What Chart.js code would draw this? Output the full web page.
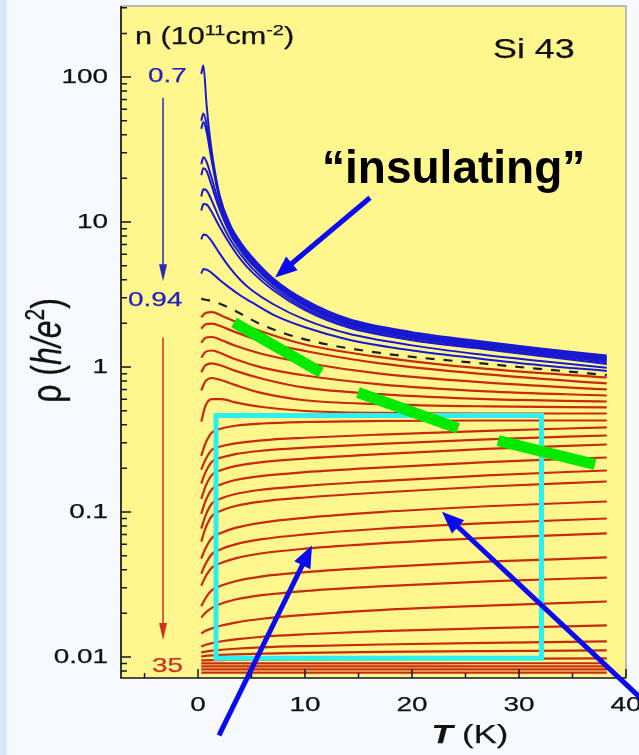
<!DOCTYPE html>
<html><head><meta charset="utf-8">
<script src="https://cdn.jsdelivr.net/npm/chart.js@4/dist/chart.umd.min.js"></script>
<style>html,body{margin:0;padding:0;background:#fff;}canvas{display:block;}</style>
</head><body>
<canvas id="c" width="639" height="755"></canvas>
<script>
// ---------- data (T in K, rho in h/e^2) ----------
const blueTemps = [0.3, 0.5, 0.8, 1.2, 2, 3, 4, 5, 7, 10, 14, 20, 26, 32, 38.2];
const blue1 = [105, 120, 64, 34, 15.5, 9.6, 7.2, 5.8, 4.1, 2.9, 2.15, 1.74, 1.52, 1.34, 1.2];
const blue2 = [50, 56, 47, 30, 15, 9.3, 7.0, 5.6, 4.0, 2.83, 2.1, 1.70, 1.49, 1.31, 1.17];
const blue3 = [44, 49, 42, 28.5, 14.5, 9.1, 6.85, 5.5, 3.92, 2.77, 2.06, 1.67, 1.46, 1.29, 1.15];
const blue4 = [25, 28, 26, 21, 13.2, 8.7, 6.6, 5.3, 3.82, 2.7, 2.02, 1.64, 1.43, 1.27, 1.13];
const blue5 = [21, 23.5, 22.5, 18.5, 12.3, 8.3, 6.35, 5.15, 3.72, 2.64, 1.98, 1.61, 1.41, 1.25, 1.11];
const blue6 = [15, 16.8, 16.5, 14.5, 10.6, 7.6, 5.95, 4.85, 3.56, 2.55, 1.93, 1.57, 1.38, 1.22, 1.08];
const blue7 = [12, 13.3, 13.2, 12, 9.3, 7.0, 5.5, 4.55, 3.4, 2.47, 1.88, 1.53, 1.35, 1.19, 1.05];
const blue8 = [7.6, 8.2, 8.1, 7.5, 6.1, 4.8, 3.95, 3.4, 2.72, 2.12, 1.7, 1.41, 1.23, 1.1, 0.99];
const blue9 = [4.4, 4.75, 4.7, 4.5, 4.0, 3.5, 3.1, 2.8, 2.3, 1.88, 1.55, 1.3, 1.15, 1.03, 0.94];
const blueCurves = [blue1, blue2, blue3, blue4, blue5, blue6, blue7, blue8, blue9];

const redTemps = [0.3, 0.7, 1.3, 2.2, 3.5, 6, 10, 17, 27, 38.2];
const separatrix = [2.95, 2.91, 2.85, 2.7, 2.43, 1.95, 1.55, 1.25, 1.05, 0.88];
const red1 = [2.2, 2.36, 2.39, 2.26, 2.05, 1.75, 1.43, 1.17, 0.97, 0.847];
const red2 = [1.84, 1.97, 1.99, 1.9, 1.74, 1.5, 1.29, 1.06, 0.89, 0.77];
const red3 = [1.47, 1.59, 1.61, 1.53, 1.4, 1.23, 1.07, 0.9, 0.78, 0.70];
const red4 = [1.16, 1.27, 1.3, 1.24, 1.13, 0.99, 0.874, 0.76, 0.68, 0.636];
const red5 = [0.92, 1.03, 1.06, 1.02, 0.94, 0.83, 0.72, 0.65, 0.6, 0.578];
const red6 = [0.69, 0.8, 0.84, 0.81, 0.75, 0.66, 0.59, 0.555, 0.535, 0.526];
const red7 = [0.42, 0.54, 0.6, 0.6, 0.57, 0.53, 0.497, 0.482, 0.478, 0.478];
const red8 = [0.244, 0.298, 0.3533, 0.3766, 0.3934, 0.4077, 0.4175, 0.4242, 0.4276, 0.4276];
const red9 = [0.196, 0.230, 0.2685, 0.284, 0.297, 0.312, 0.325, 0.342, 0.363, 0.383];
const red10 = [0.157, 0.188, 0.2222, 0.2376, 0.2508, 0.2647, 0.2775, 0.2949, 0.3172, 0.3370];
const red11 = [0.123, 0.150, 0.1803, 0.1949, 0.2073, 0.2209, 0.2335, 0.2504, 0.2724, 0.2921];
const red12 = [0.097, 0.119, 0.1436, 0.1555, 0.1662, 0.1774, 0.1882, 0.2024, 0.2209, 0.2376];
const red13 = [0.0767, 0.0945, 0.1143, 0.1243, 0.1331, 0.1425, 0.1514, 0.1633, 0.1791, 0.1933];
const red14 = [0.0624, 0.0773, 0.0938, 0.1024, 0.1100, 0.1181, 0.1259, 0.1363, 0.1499, 0.1623];
const red15 = [0.0477, 0.0562, 0.0662, 0.0720, 0.0777, 0.0845, 0.0912, 0.0998, 0.1095, 0.1181];
const red16 = [0.0375, 0.0437, 0.0512, 0.0556, 0.0598, 0.0649, 0.0700, 0.0766, 0.0837, 0.0902];
const red17 = [0.0310, 0.0358, 0.0413, 0.0446, 0.0479, 0.0519, 0.0558, 0.0607, 0.0662, 0.0711];
const red18 = [0.0224, 0.0254, 0.0289, 0.0311, 0.0333, 0.0360, 0.0385, 0.0417, 0.0454, 0.0486];
const red19 = [0.0187, 0.0202, 0.0218, 0.0234, 0.0249, 0.0267, 0.0285, 0.0307, 0.0332, 0.0353];
const red20 = [0.01452, 0.01514, 0.01575, 0.01649, 0.01727, 0.01834, 0.01951, 0.02106, 0.02259, 0.02414];
const red21 = [0.01181, 0.01214, 0.01247, 0.01283, 0.01322, 0.01378, 0.01434, 0.01506, 0.01579, 0.01649];
const red22 = [0.01074, 0.01089, 0.01105, 0.01121, 0.01139, 0.01165, 0.01189, 0.01219, 0.01251, 0.01279];
const red23 = [0.01008, 0.01016, 0.01024, 0.01033, 0.01043, 0.01055, 0.01068, 0.01083, 0.01097, 0.01109];
const red24 = [0.00946, 0.00948, 0.0095, 0.00952, 0.00955, 0.00958, 0.00962, 0.00967, 0.00972, 0.00977];
const red25 = [0.00902, 0.00902, 0.00902, 0.00903, 0.00903, 0.00903, 0.00904, 0.00904, 0.00905, 0.00905];
const red26 = [0.0086, 0.0086, 0.0086, 0.0086, 0.0086, 0.0086, 0.0086, 0.0086, 0.0086, 0.0086];
const red27 = [0.0082, 0.0082, 0.0082, 0.0082, 0.0082, 0.0082, 0.0082, 0.0082, 0.0082, 0.0082];
const red28 = [0.00781, 0.00781, 0.00781, 0.00781, 0.00781, 0.00781, 0.00781, 0.00781, 0.00781, 0.00781];
const redCurves = [red1, red2, red3, red4, red5, red6, red7, red8, red9, red10, red11, red12, red13, red14,
  red15, red16, red17, red18, red19, red20, red21, red22, red23, red24, red25, red26, red27, red28];

// annotations (data coordinates)
const greenT = [3.36, 11.5, 13, 14.95, 24.3, 26, 28.04, 37.1];
const greenRho = [2.03, 0.916, null, 0.667, 0.377, null, 0.311, 0.213];
const boxT = [17, 32.1, 32.1, 1.68, 1.68, 17];
const boxRho = [0.463, 0.463, 0.0098, 0.0098, 0.463, 0.463];
const arrowTailT = [16.07, 1.96, 42.2];
const arrowTailRho = [14.7, 0.00288, 0.00456];
const arrowHeadT = [7.2, 10.65, 22.8];
const arrowHeadRho = [4.14, 0.0587, 0.1002];

// axes
const xMin = -7.2, xMax = 40, yMin = 0.00716, yMax = 309;
const xTicks = [0, 10, 20, 30, 40];
const xTickLabels = ['0', '10', '20', '30', '40'];
const xMinorTicks = [-5, 5, 15, 25, 35];
const yTicks = [0.01, 0.1, 1, 10, 100];
const yTickLabels = ['0.01', '0.1', '1', '10', '100'];

// ---------- drawing ----------
const SX = 1.33;
const FF = '"Liberation Sans", Arial, sans-serif';
const pts = (xs, ys) => xs.map((x, i) => ({x: x, y: ys[i]}));

const datasets = [];
datasets.push({data: pts(greenT, greenRho), borderColor: '#00ea00', borderWidth: 11, borderCapStyle: 'butt', spanGaps: false, tension: 0});
datasets.push({data: pts(boxT, boxRho), borderColor: '#2cefef', borderWidth: 5, borderJoinStyle: 'miter', tension: 0});
datasets.push({data: pts(redTemps, separatrix), borderColor: '#1e1e1e', borderWidth: 2.2, borderDash: [9, 9], cubicInterpolationMode: 'monotone'});
blueCurves.forEach(c => datasets.push({data: pts(blueTemps, c), borderColor: '#1818d2', borderWidth: 2, cubicInterpolationMode: 'monotone'}));
redCurves.forEach(c => datasets.push({data: pts(redTemps, c), borderColor: '#c82a0c', borderWidth: 2.2, cubicInterpolationMode: 'monotone'}));

const W = 0.25; // slight text weight
function sText(ctx, txt, x, y, font, color, align, base) {
  ctx.save();
  ctx.font = font; ctx.fillStyle = color; ctx.strokeStyle = color; ctx.lineWidth = W;
  ctx.textAlign = align; ctx.textBaseline = base;
  ctx.translate(x, y); ctx.scale(SX, 1);
  ctx.fillText(txt, 0, 0); ctx.strokeText(txt, 0, 0);
  ctx.restore();
}
function rich(ctx, parts, x, y, align, sx, weight) {
  ctx.save();
  let total = 0;
  parts.forEach(p => { ctx.font = p.f; p.w = ctx.measureText(p.t).width; total += p.w; });
  ctx.translate(x, y); ctx.scale(sx, 1);
  let cx = align === 'center' ? -total / 2 : 0;
  ctx.textAlign = 'left'; ctx.textBaseline = 'alphabetic'; ctx.lineWidth = weight || 0;
  parts.forEach(p => {
    ctx.font = p.f; ctx.fillStyle = p.c || '#111'; ctx.strokeStyle = p.c || '#111';
    ctx.fillText(p.t, cx, p.dy || 0);
    if (weight) ctx.strokeText(p.t, cx, p.dy || 0);
    cx += p.w;
  });
  ctx.restore();
}
function arrow(ctx, x1, y1, x2, y2, w, hl, hw, color) {
  const a = Math.atan2(y2 - y1, x2 - x1);
  const bx = x2 - hl * Math.cos(a), by = y2 - hl * Math.sin(a);
  ctx.save();
  ctx.strokeStyle = color; ctx.fillStyle = color; ctx.lineWidth = w; ctx.lineCap = 'butt';
  ctx.beginPath(); ctx.moveTo(x1, y1); ctx.lineTo(bx + Math.cos(a), by + Math.sin(a)); ctx.stroke();
  ctx.beginPath(); ctx.moveTo(x2, y2);
  ctx.lineTo(bx + hw / 2 * Math.sin(a), by - hw / 2 * Math.cos(a));
  ctx.lineTo(bx - hw / 2 * Math.sin(a), by + hw / 2 * Math.cos(a));
  ctx.closePath(); ctx.fill();
  ctx.restore();
}

const decor = {
  id: 'decor',
  beforeDraw(chart) {
    const {ctx, chartArea: a, width, height} = chart;
    ctx.save();
    ctx.fillStyle = '#f6f9fd'; ctx.fillRect(0, 0, width, height);
    ctx.fillStyle = '#d7e6f8'; ctx.fillRect(0, 0, 7, height);
    ctx.fillStyle = '#fff68e'; ctx.fillRect(a.left, a.top, a.right - a.left, a.bottom - a.top);
    ctx.restore();
  },
  afterDraw(chart) {
    const {ctx, chartArea: a} = chart;
    const xs = chart.scales.x, ys = chart.scales.y;
    const X = v => xs.getPixelForValue(v), Y = v => ys.getPixelForValue(v);
    ctx.save();
    // frame
    ctx.lineWidth = 1.5; ctx.strokeStyle = '#a4a4a4';
    ctx.beginPath(); ctx.moveTo(a.left, a.top); ctx.lineTo(a.right, a.top); ctx.lineTo(a.right, a.bottom); ctx.stroke();
    ctx.strokeStyle = '#151515'; ctx.lineWidth = 1.7;
    ctx.beginPath(); ctx.moveTo(a.left, a.top); ctx.lineTo(a.left, a.bottom); ctx.lineTo(a.right, a.bottom); ctx.stroke();
    // ticks (inward)
    ctx.lineWidth = 1.5;
    ctx.beginPath();
    xTicks.forEach(v => { const p = X(v); ctx.moveTo(p, a.bottom); ctx.lineTo(p, a.bottom - 9); });
    xMinorTicks.forEach(v => { const p = X(v); ctx.moveTo(p, a.bottom); ctx.lineTo(p, a.bottom - 5); });
    for (let e = -3; e <= 2; e++) {
      for (let m = 1; m <= 9; m++) {
        const v = m * Math.pow(10, e);
        if (v < yMin || v > yMax) continue;
        const p = Y(v);
        ctx.moveTo(a.left, p); ctx.lineTo(a.left + (m === 1 ? 10 : 6), p);
      }
    }
    ctx.stroke();
    // tick labels
    const tf = '21px ' + FF;
    yTicks.forEach((v, i) => sText(ctx, yTickLabels[i], a.left - 13, Y(v), tf, '#111', 'right', 'middle'));
    xTicks.forEach((v, i) => sText(ctx, xTickLabels[i], X(v), a.bottom + 27, tf, '#111', 'center', 'middle'));
    // axis titles
    rich(ctx, [{t: 'T', f: 'bold italic 26px ' + FF}, {t: ' (K)', f: '26px ' + FF}], X(25.4), a.bottom + 65, 'center', SX, W);
    ctx.save();
    ctx.translate(a.left - 60, Y(1.3)); ctx.rotate(-Math.PI / 2); ctx.scale(1, SX);
    rich(ctx, [{t: 'ρ (', f: '32px ' + FF}, {t: 'h/e', f: 'italic 32px ' + FF}, {t: '2', f: '21px ' + FF, dy: -13}, {t: ')', f: '32px ' + FF}], 0, 0, 'center', 1, W);
    ctx.restore();
    // in-plot labels
    const lf = '23px ' + FF, sf = '15px ' + FF;
    rich(ctx, [{t: 'n (10', f: lf}, {t: '11', f: sf, dy: -9}, {t: 'cm', f: lf}, {t: '-2', f: sf, dy: -9}, {t: ')', f: lf}], X(-5.89), Y(170), 'left', SX, W);
    rich(ctx, [{t: 'Si 43', f: '28px ' + FF}], X(27.57), Y(136), 'left', 1.28, W);
    rich(ctx, [{t: '\u201cinsulating\u201d', f: 'bold 46px ' + FF, c: '#000'}], X(11.59), Y(18.7), 'left', 1);
    sText(ctx, '0.7', X(-4.67), Y(102), '21px ' + FF, '#2424bb', 'left', 'middle');
    sText(ctx, '0.94', X(-6.54), Y(2.874), '21px ' + FF, '#2424bb', 'left', 'middle');
    sText(ctx, '35', X(-4.3), Y(0.00859), '21px ' + FF, '#cc3320', 'left', 'middle');
    // thin n-direction arrows
    arrow(ctx, X(-3.27), Y(72), X(-3.27), Y(3.9), 1.5, 17, 8, '#2a2abf');
    arrow(ctx, X(-3.27), Y(1.6), X(-3.27), Y(0.0131), 1.5, 17, 8, '#cc3320');
    ctx.restore();
    // big annotation arrows
    arrowTailT.forEach((t, i) => arrow(ctx, X(t), Y(arrowTailRho[i]), X(arrowHeadT[i]), Y(arrowHeadRho[i]), 5, 22, 18, '#0a0af0'));
  }
};

new Chart(document.getElementById('c'), {
  type: 'line',
  data: {datasets: datasets},
  options: {
    responsive: false, animation: false, devicePixelRatio: 1,
    layout: {padding: {left: 0, right: 13, top: 6, bottom: 0}},
    plugins: {legend: {display: false}, tooltip: {enabled: false}},
    elements: {point: {radius: 0}},
    scales: {
      x: {type: 'linear', min: xMin, max: xMax, grid: {display: false, drawTicks: false}, border: {display: false},
          ticks: {display: false}, afterFit: s => { s.height = 77; }},
      y: {type: 'logarithmic', min: yMin, max: yMax, grid: {display: false, drawTicks: false}, border: {display: false},
          ticks: {display: false}, afterFit: s => { s.width = 121; }}
    }
  },
  plugins: [decor]
});
</script>
</body></html>
